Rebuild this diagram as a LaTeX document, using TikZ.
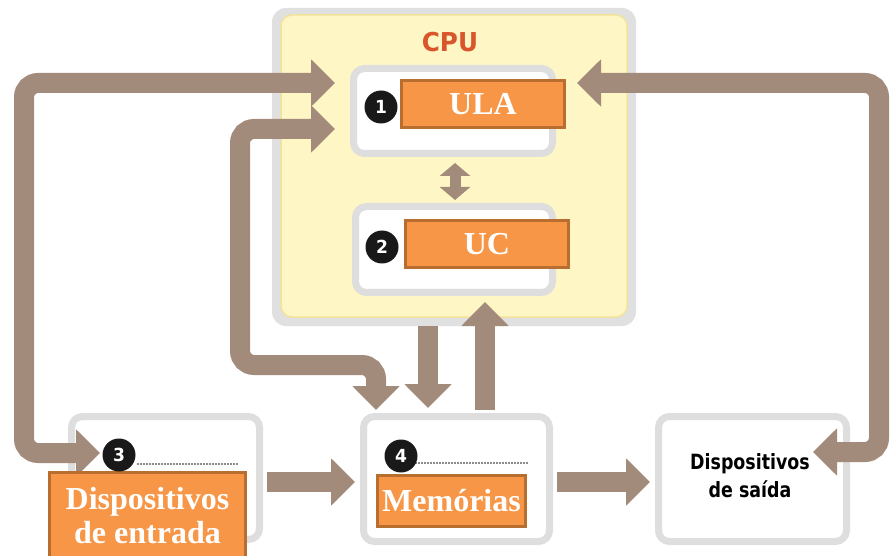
\documentclass[tikz,border=0pt]{standalone}
\usepackage{fontspec}
\setmainfont{Liberation Serif}
\newfontfamily\cpufont{DejaVu Sans}[FakeStretch=0.95]
\newfontfamily\saidafont{DejaVu Sans}[FakeStretch=0.83]
\usetikzlibrary{arrows.meta,calc}
\definecolor{arrowc}{HTML}{A38B7C}
\definecolor{boxgray}{HTML}{DEDEDE}
\definecolor{cpugray}{HTML}{E0E0E0}
\definecolor{cpuyel}{HTML}{FFF6C6}
\definecolor{cpuedge}{HTML}{F3E39A}
\definecolor{orfill}{HTML}{F79646}
\definecolor{ordraw}{HTML}{B86E2E}
\definecolor{cputext}{HTML}{D9552B}
\tikzset{
  cpuouter/.style={fill=cpugray, draw=none, rounded corners=14pt},
  cpuinner/.style={fill=cpuyel, draw=cpuedge, line width=1.5pt, rounded corners=11pt},
  whitebox/.style={fill=white, draw=boxgray, line width=7pt, rounded corners=11pt},
  orangelab/.style={fill=orfill, draw=ordraw, line width=3pt, text=white, inner sep=0pt,
    align=center, font=\bfseries\fontsize{32}{35}\selectfont},
  numcirc/.style={circle, fill=black!90, text=white, minimum size=33pt, inner sep=0pt,
    font=\cpufont\bfseries\fontsize{18}{18}\selectfont},
  bigarrow/.style={draw=arrowc, line width=20pt, rounded corners=14pt},
  bigtip/.tip={Triangle[width=46pt,length=24pt]},
  smalltip/.tip={Triangle[width=30pt,length=13pt]},
  dotline/.style={draw=black!45, line width=1.5pt, dash pattern=on 2pt off 1pt}
}
\begin{document}
\begin{tikzpicture}[x=1pt,y=-1pt]
\useasboundingbox (0,0) rectangle (892,556);
% CPU
\node[cpuouter, minimum width=364pt, minimum height=318pt] (cpu) at (454,167) {};
\node[cpuinner, minimum width=346pt, minimum height=302pt] (cpuin) at (454,166) {};
\node[text=cputext, font=\cpufont\bfseries\fontsize{26}{26}\selectfont] (cputxt) at (450,42) {CPU};
% white boxes
\node[whitebox, minimum width=199pt, minimum height=85pt] (ulabox) at (453,111) {};
\node[whitebox, minimum width=197pt, minimum height=86pt] (ucbox) at (454,249.5) {};
\node[whitebox, minimum width=186pt, minimum height=125pt] (membox) at (456.5,479) {};
\node[whitebox, minimum width=188pt, minimum height=123pt] (entbox) at (165.5,478) {};
\node[whitebox, minimum width=188pt, minimum height=125pt] (saibox) at (752.5,479) {};
% arrow end points
\coordinate (ulaL1) at (335,83);
\coordinate (ulaL2) at (335,129);
\coordinate (ulaR) at (577,83);
\coordinate (entIn) at (100,453);
\coordinate (memIn) at (376,410);
\coordinate (saiIn) at (813,452);
% arrows
\draw[bigarrow, bigtip-bigtip] (ulaL1) -- (24,83) -- (24,453) -- (entIn);
\draw[bigarrow, bigtip-bigtip] (ulaL2) -- (240,129) -- (240,365) -- (376,365) -- (memIn);
\draw[bigarrow, bigtip-bigtip] (ulaR) -- (879,83) -- (879,452) -- (saiIn);
\draw[bigarrow, -bigtip] (cpu.south -| 428,0) -- (428,408);
\draw[bigarrow, -bigtip] (membox.north -| 485,0) ++(0,-3) -- (485,302);
\draw[bigarrow, -bigtip] (entbox.east) ++(4,4) -- (355,482);
\draw[bigarrow, -bigtip] (membox.east) ++(4,3) -- (650,482);
\draw[draw=arrowc, line width=11pt, smalltip-smalltip] (ulabox.south -| 455,0) ++(0,6) -- (455,200);
% dotted lines
\draw[dotline] (137,464) -- (238,464);
\draw[dotline] (415,463) -- (528,463);
% orange labels
\node[orangelab, minimum width=163pt, minimum height=47pt] (ula) at (483,104) {ULA};
\node[orangelab, minimum width=163pt, minimum height=47pt] (uc) at (487,244) {UC};
\node[orangelab, minimum width=148pt, minimum height=51pt] (mem) at (451.5,501) {Memórias};
\node[orangelab, minimum width=196pt, minimum height=86pt] (ent) at (147.5,515.5) {Dispositivos\\[-1pt]de entrada};
% numbers
\node[numcirc] (n1) at (381,107) {1};
\node[numcirc] (n2) at (382,247) {2};
\node[numcirc] (n3) at (119,455) {3};
\node[numcirc] (n4) at (401,456) {4};
% saida text
\node[align=center, font=\saidafont\bfseries\fontsize{21}{28}\selectfont] (saitxt) at (750,476) {Dispositivos\\de saída};
\end{tikzpicture}
\end{document}
